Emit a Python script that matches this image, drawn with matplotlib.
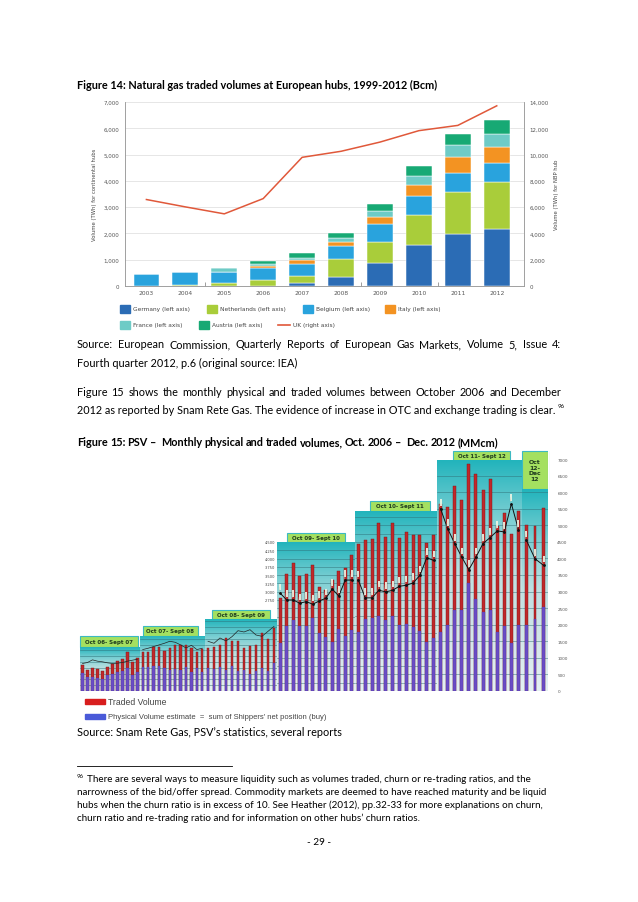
import numpy as np
import matplotlib
matplotlib.use("Agg")
import matplotlib.pyplot as plt
from matplotlib.patches import Rectangle
from matplotlib.colors import LinearSegmentedColormap

W, H = 638, 903

# ---------------- Figure 14 data (TWh) ----------------
years = ["2003", "2004", "2005", "2006", "2007", "2008", "2009", "2010", "2011", "2012"]
germany = [0, 0, 0, 0, 130, 340, 860, 1560, 1960, 2160]
netherlands = [0, 40, 130, 230, 250, 670, 810, 1140, 1620, 1800]
belgium = [440, 490, 400, 450, 440, 510, 700, 720, 710, 720]
italy = [0, 0, 0, 90, 170, 150, 250, 440, 610, 600]
france = [0, 0, 150, 70, 60, 165, 250, 320, 460, 510]
austria = [0, 0, 0, 100, 220, 190, 250, 400, 430, 510]
uk = [6580, 6020, 5490, 6650, 9790, 10250, 10950, 11820, 12220, 13710]

# ---------------- Figure 15 data (MMcm, monthly Oct 2006 - Dec 2012) ----------------
period_labels = ["Oct 06- Sept 07", "Oct 07- Sept 08", "Oct 08- Sept 09", "Oct 09- Sept 10",
                 "Oct 10- Sept 11", "Oct 11- Sept 12", "Oct\n12-\nDec\n12"]
period_months = [12, 12, 12, 12, 12, 12, 3]
traded = [790, 640, 680, 660, 600, 730, 810, 910, 960, 1180, 860, 1010,
          1170, 1190, 1320, 1320, 1220, 1290, 1390, 1390, 1390, 1290, 1170, 1270,
          1300, 1330, 1400, 1590, 1510, 1510, 1290, 1360, 1390, 1740, 1570, 1890,
          2800, 3520, 3880, 3470, 3520, 3800, 3150, 3060, 3350, 3620, 3720, 4100,
          4450, 4550, 4600, 5060, 4650, 5060, 4620, 4800, 4700, 4700, 4470, 4700,
          5650, 5550, 6180, 5770, 6860, 6540, 6060, 6410, 4990, 5370, 4750, 5430,
          5000, 4970, 5530]
physical = [540, 410, 410, 390, 360, 480, 510, 560, 610, 680, 480, 560,
            730, 710, 750, 760, 680, 630, 650, 630, 710, 580, 680, 560,
            680, 660, 730, 630, 760, 610, 630, 500, 600, 700, 600, 850,
            1440, 1970, 2140, 1970, 1970, 2210, 1760, 1640, 1490, 1870, 1660, 1840,
            1780, 2180, 2210, 2250, 2130, 2250, 1980, 2030, 1930, 1810, 1480, 1610,
            1780, 1980, 2430, 2450, 3260, 2790, 2380, 2430, 1780, 1950, 1450, 1980,
            1980, 2180, 2540]
trend = [830, 860, 940, 900, 880, 850, 830, 840, 860, 900, 930, 960,
         1250, 1290, 1340, 1390, 1440, 1500, 1470, 1390, 1300, 1380, 1250, 1290,
         1500, 1440, 1600, 1510, 1640, 1820, 1780, 1850, 1690, 1650, 1800, 1950,
         2950, 2750, 2750, 2650, 2700, 2620, 2720, 2800, 3080, 2870, 3350, 3350,
         3340, 2810, 2810, 3040, 2990, 3040, 3160, 3190, 3260, 3490, 4020, 3940,
         5500, 4900, 4450, 4040, 3660, 4040, 4450, 4630, 4830, 4800, 5650, 4870,
         4550, 3990, 3790]
mini_ticks = [2750, 3000, 3250, 3500, 3750, 4000, 4250, 4500]
right_ticks = list(range(0, 7001, 500))

BODY = "Lato"
FS = 7.8
fig = plt.figure(figsize=(W / 100, H / 100), dpi=100)
page = fig.add_axes([0, 0, 1, 1])
page.set_xlim(0, W); page.set_ylim(H, 0); page.axis("off")


def px_axes(x0, y0, x1, y1):
    return fig.add_axes([x0 / W, 1 - y1 / H, (x1 - x0) / W, (y1 - y0) / H])


def justify(text, x0, x1, y, **kw):
    words = text.split(" ")
    arts = [page.text(0, y, w, va="center", ha="left", **kw) for w in words]
    r = fig.canvas.get_renderer()
    ws = [a.get_window_extent(r).width for a in arts]
    gap = (x1 - x0 - sum(ws)) / (len(words) - 1)
    x = x0
    for a, w in zip(arts, ws):
        a.set_x(x); x += w + gap


# ---------------- texts ----------------
page.text(77, 85, "Figure 14: Natural gas traded volumes at European hubs, 1999-2012 (Bcm)",
          family=BODY, weight="bold", fontsize=FS, va="center")
justify("Source: European Commission, Quarterly Reports of European Gas Markets, Volume 5, Issue 4:",
        77, 561, 345, family=BODY, fontsize=FS)
page.text(77, 363, "Fourth quarter 2012, p.6 (original source: IEA)", family=BODY, fontsize=FS, va="center")
justify("Figure 15 shows the monthly physical and traded volumes between October 2006 and December",
        77, 561, 393, family=BODY, fontsize=FS)
t = page.text(77, 411, "2012 as reported by Snam Rete Gas. The evidence of increase in OTC and exchange trading is clear.",
              family=BODY, fontsize=FS, va="center")
bb = t.get_window_extent(fig.canvas.get_renderer())
page.text(77 + bb.width + 2, 407, "96", family=BODY, fontsize=4.4, va="center")
justify("Figure 15: PSV –  Monthly physical and traded volumes, Oct. 2006 –  Dec. 2012 (MMcm)",
        77, 498, 443, family=BODY, weight="bold", fontsize=FS)
page.text(77, 733, "Source: Snam Rete Gas, PSV’s statistics, several reports", family=BODY, fontsize=FS, va="center")
page.plot([77, 232], [767, 767], color="black", lw=0.6)
page.text(77, 777, "96", family=BODY, fontsize=4.4, va="center")
foot = ["There are several ways to measure liquidity such as volumes traded, churn or re-trading ratios, and the",
        "narrowness of the bid/offer spread. Commodity markets are deemed to have reached maturity and be liquid",
        "hubs when the churn ratio is in excess of 10. See Heather (2012), pp.32-33 for more explanations on churn,",
        "churn ratio and re-trading ratio and for information on other hubs’ churn ratios."]
for k, line in enumerate(foot):
    page.text(87 if k == 0 else 77, 780 + k * 12.7, line, family=BODY, fontsize=7.1, va="center")
page.text(319, 843, "- 29 -", family=BODY, fontsize=7.2, va="center", ha="center")

# ---------------- Figure 14 ----------------
ax = px_axes(125, 103, 524, 287)
x = np.arange(len(years))
cols = ["#2b6cb5", "#a9cd3a", "#29a3dd", "#f39322", "#6ecbc6", "#17a974"]
names = ["Germany (left axis)", "Netherlands (left axis)", "Belgium (left axis)", "Italy (left axis)",
         "France (left axis)", "Austria (left axis)"]
bottom = np.zeros(len(years))
for vals, c in zip([germany, netherlands, belgium, italy, france, austria], cols):
    ax.bar(x, vals, bottom=bottom, width=0.66, color=c, edgecolor="white", linewidth=0.35, zorder=3)
    bottom += np.array(vals)
ax.set_xlim(-0.55, 9.7); ax.set_ylim(0, 7000)
ax.set_yticks(range(0, 7001, 1000))
ax.set_yticklabels([f"{v:,}" for v in range(0, 7001, 1000)])
ax.grid(axis="y", color="#e2e2e2", lw=0.6, zorder=0)
ax.set_xticks(x); ax.set_xticklabels(years)
ax.set_xticks([1.5, 5.5, 7.5], minor=True)
ax.tick_params(axis="x", which="major", length=0, labelsize=4.3, colors="#555555", pad=3)
ax.tick_params(axis="x", which="minor", length=3, width=0.5, color="#777777", direction="in")
ax.tick_params(axis="y", length=0, labelsize=4.0, colors="#555555", pad=4)
ax.spines["top"].set_visible(False)
for s in ["left", "bottom", "right"]:
    ax.spines[s].set_color("#999999"); ax.spines[s].set_linewidth(0.5)
ax.set_ylabel("Volume (TWh) for continental hubs", fontsize=3.8, color="#444444", labelpad=5)
ax2 = ax.twinx()
ax2.plot(x, uk, color="#e0583a", lw=1.1, zorder=4)
ax2.set_ylim(0, 14000)
ax2.set_yticks(range(0, 14001, 2000))
ax2.set_yticklabels([f"{v:,}" for v in range(0, 14001, 2000)])
ax2.tick_params(axis="y", length=0, labelsize=4.0, colors="#555555", pad=4)
ax2.spines["top"].set_visible(False)
for s in ["left", "bottom", "right"]:
    ax2.spines[s].set_color("#999999"); ax2.spines[s].set_linewidth(0.5)
ax2.set_ylabel("Volume (TWh) for NBP hub", fontsize=3.8, color="#444444", labelpad=4)

# legend (drawn on the page)
leg_pos = [(120, 310), (207, 310), (303, 310), (385, 310), (120, 326), (199, 326)]
for (lx, ly), c, nm in zip(leg_pos, cols, names):
    page.add_patch(Rectangle((lx, ly - 4), 10, 8, color=c))
    page.text(lx + 13, ly, nm, fontsize=4.2, color="#444444", va="center", family="DejaVu Sans")
page.plot([278, 290], [326, 326], color="#e0583a", lw=1.2)
page.text(293, 326, "UK (right axis)", fontsize=4.2, color="#444444", va="center", family="DejaVu Sans")

# ---------------- Figure 15 (collage of yearly panels) ----------------
SCALE = 232 / 7000          # px per MMcm
BASE = 692
teal = LinearSegmentedColormap.from_list("teal", ["#e4f1f4", "#d3e6e8", "#bfe0e1", "#7ccfd3", "#22b4bc"])
grad = np.linspace(0, 1, 256)[:, None]
RED, DKRED, BLUE = "#c0282a", "#7c1414", "#6a4cc4"
# layout: panel x-range, top of body, header box, grid step
layout = [
    (80, 140, 648, (80, 637, 138, 648), 175),
    (140, 205, 637, (143, 627, 198, 637), 175),
    (205, 277, 620, (212, 611, 270, 620), 175),
    (277, 355, 543, (287, 534, 345, 543), 250),
    (355, 437, 512, (370, 502, 430, 512), 250),
    (437, 522, 461, (453, 452, 510, 462), 500),
    (522, 548, 490, (522, 452, 548, 490), 500),
]
i0 = 0
for p, (lab, n, (x0, x1, ytop, hb, step)) in enumerate(zip(period_labels, period_months, layout)):
    axp = px_axes(x0, ytop, x1, BASE)
    ymax = (BASE - ytop) / SCALE
    axp.set_xlim(-0.5, n - 0.5); axp.set_ylim(0, ymax)
    axp.imshow(grad, extent=[-0.5, n - 0.5, 0, ymax], aspect="auto", cmap=teal, origin="lower", zorder=0)
    for g in np.arange(step, ymax, step):
        axp.axhline(g, color="#2f6f77", lw=0.45, alpha=0.75, zorder=1)
    xs = np.arange(n)
    w = 0.42 if n > 3 else 0.3
    axp.bar(xs, traded[i0:i0 + n], width=w, color=RED, edgecolor=DKRED, linewidth=0.3, zorder=2)
    axp.bar(xs, physical[i0:i0 + n], width=w, color=BLUE, edgecolor="#4a2c9a", linewidth=0.2, zorder=3)
    tv = trend[i0:i0 + n]
    if p < 3:
        axp.plot(xs, tv, color="#222222", lw=0.5, zorder=4)
    else:
        axp.plot(xs, tv, color="#111111", lw=0.7, marker="o", ms=1.0, zorder=4)
        for xi, v in zip(xs, tv):
            axp.annotate(f"{v:,}", (xi, v), xytext=(0, 2.5), textcoords="offset points", rotation=90,
                         fontsize=1.4, ha="center", va="bottom", color="#b8c4b0", zorder=5,
                         bbox=dict(boxstyle="square,pad=0.25", fc="#eef5e4", ec="none", alpha=0.9))
    for s in axp.spines.values():
        s.set_visible(False)
    axp.set_xticks([])
    if p == 3:
        axp.set_yticks(mini_ticks)
        axp.set_yticklabels([f"{v:,}" for v in mini_ticks])
        axp.tick_params(axis="y", length=0, labelsize=2.6, colors="#444444", pad=1.5)
    else:
        axp.set_yticks([])
    bx0, by0, bx1, by1 = hb
    page.add_patch(Rectangle((bx0, by0), bx1 - bx0, by1 - by0, fc="#a4e060", ec="#3cb9c2", lw=0.8))
    page.text((bx0 + bx1) / 2, (by0 + by1) / 2, lab, ha="center", va="center",
              fontsize=4.0 if n > 3 else 4.4, weight="bold", color="#1e3a1e", family="DejaVu Sans",
              linespacing=1.15)
    i0 += n

axr = px_axes(548, 445, 549, BASE)
axr.set_ylim(0, (BASE - 445) / SCALE)
axr.yaxis.tick_right()
axr.set_yticks(right_ticks)
axr.set_yticklabels([str(v) for v in right_ticks])
axr.tick_params(axis="y", length=0, labelsize=3.0, colors="#555555", pad=6)
axr.set_xticks([])
for s in axr.spines.values():
    s.set_visible(False)

page.add_patch(Rectangle((85, 700), 20, 5, color="#d81e1e"))
page.text(108, 703, "Traded Volume", fontsize=6.2, color="#444444", va="center", family="Liberation Sans")
page.add_patch(Rectangle((85, 715), 20, 4.5, color="#4a5ad8"))
page.text(108, 717.5, "Physical Volume estimate  =  sum of Shippers' net position (buy)", fontsize=5.5,
          color="#444444", va="center", family="Liberation Sans")

fig.savefig("out.png", dpi=100)
